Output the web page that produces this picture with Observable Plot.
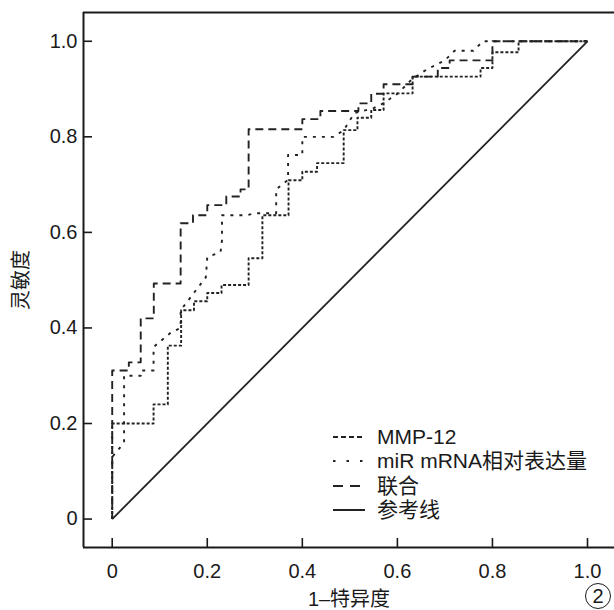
<!DOCTYPE html>
<html><head><meta charset="utf-8">
<script src="https://cdn.jsdelivr.net/npm/d3@7"></script>
<script src="https://cdn.jsdelivr.net/npm/@observablehq/plot@0.6"></script>
<style>
body{margin:0;background:#fff;}
#wrap{position:relative;width:614px;height:610px;overflow:hidden;background:#fff;}
#wrap svg{display:block;}
#legend{position:absolute;left:333px;top:425px;font-family:"Liberation Sans",Arial,"Noto Sans CJK SC",sans-serif;font-size:21px;color:#1a1a1a;}
.row{height:24.3px;line-height:24.3px;display:flex;align-items:center;white-space:nowrap;}
.row svg{width:32px;height:10px;margin-right:12px;flex:none;}
#fig{position:absolute;left:585px;top:583px;width:24px;height:24px;border:1.5px solid #1a1a1a;border-radius:50%;font-family:"Liberation Sans",Arial,sans-serif;font-size:20px;text-align:center;line-height:24px;color:#1a1a1a;}
</style></head>
<body><div id="wrap"></div>
<script>
// ---- data ----
const seriesNames = ["MMP-12", "miR mRNA相对表达量", "联合", "参考线"];
const xTitle = "1–特异度";
const yTitle = "灵敏度";
const figLabel = "2";
const xTicks = [0, 0.2, 0.4, 0.6, 0.8, 1.0];
const xTickLabels = ["0", "0.2", "0.4", "0.6", "0.8", "1.0"];
const yTicks = [0, 0.2, 0.4, 0.6, 0.8, 1.0];
const yTickLabels = ["0", "0.2", "0.4", "0.6", "0.8", "1.0"];

const mmpFpr = [0,0,0.087,0.087,0.117,0.117,0.145,0.145,0.172,0.172,0.2,0.2,0.23,0.23,0.287,0.287,0.316,0.316,0.371,0.371,0.4,0.4,0.431,0.431,0.487,0.487,0.516,0.516,0.545,0.545,0.571,0.571,0.632,0.632,0.775,0.775,0.8,0.8,0.855,0.855,1];
const mmpTpr = [0,0.2,0.2,0.24,0.24,0.363,0.363,0.437,0.437,0.456,0.456,0.473,0.473,0.49,0.49,0.546,0.546,0.636,0.636,0.709,0.709,0.727,0.727,0.745,0.745,0.814,0.814,0.84,0.84,0.856,0.856,0.891,0.891,0.926,0.926,0.944,0.944,0.977,0.977,1,1];

const mirFpr = [0,0,0.025,0.025,0.06,0.06,0.087,0.087,0.123,0.144,0.144,0.197,0.2,0.228,0.231,0.231,0.284,0.3,0.345,0.345,0.37,0.37,0.4,0.4,0.466,0.487,0.51,0.55,0.57,0.6,0.63,0.66,0.7,0.72,0.76,0.78,1];
const mirTpr = [0,0.13,0.16,0.3,0.3,0.311,0.311,0.36,0.39,0.4,0.437,0.506,0.548,0.559,0.584,0.636,0.636,0.64,0.64,0.69,0.71,0.762,0.762,0.8,0.8,0.814,0.85,0.86,0.87,0.89,0.92,0.94,0.96,0.98,0.98,1,1];

const comboFpr = [0,0,0.035,0.035,0.06,0.06,0.0875,0.0875,0.144,0.144,0.17,0.17,0.2,0.2,0.24,0.24,0.27,0.27,0.287,0.287,0.4,0.4,0.438,0.438,0.518,0.518,0.545,0.545,0.571,0.571,0.632,0.632,0.685,0.685,0.71,0.71,0.8,0.8,1];
const comboTpr = [0,0.311,0.311,0.328,0.328,0.42,0.42,0.493,0.493,0.619,0.619,0.636,0.636,0.657,0.657,0.675,0.675,0.69,0.69,0.816,0.816,0.837,0.837,0.854,0.854,0.87,0.87,0.89,0.89,0.91,0.91,0.926,0.926,0.944,0.944,0.96,0.96,1,1];

const refFpr = [0, 1];
const refTpr = [0, 1];

// ---- styles ----
const ink = "#222";
const curveDash = ["3,2", "3,6", "8,5", null];
const legendDash = ["5,3", "2.5,11", "10,7", null];
const xDomain = [-0.0604, 1.0568];
const yDomain = [-0.0595, 1.0602];

const toRows = (xs, ys) => xs.map((x, i) => ({fpr: x, tpr: ys[i]}));
const curves = [toRows(mmpFpr, mmpTpr), toRows(mirFpr, mirTpr), toRows(comboFpr, comboTpr), toRows(refFpr, refTpr)];

const font = '"Liberation Sans", Arial, "Noto Sans CJK SC", sans-serif';

const chart = Plot.plot({
  width: 614, height: 610,
  marginLeft: 83, marginRight: 0, marginTop: 12, marginBottom: 63,
  style: {fontFamily: font, fontSize: "20px", color: "#1a1a1a", background: "white"},
  x: {domain: xDomain},
  y: {domain: yDomain},
  marks: [
    ...curves.map((rows, k) => Plot.line(rows, {
      x: "fpr", y: "tpr", stroke: ink,
      strokeWidth: k === 3 ? 1.8 : 1.9,
      strokeDasharray: curveDash[k],
      strokeLinecap: "butt"
    })),
    Plot.ruleX([xDomain[0]], {stroke: "#1a1a1a", strokeWidth: 2}),
    Plot.ruleY([yDomain[0], yDomain[1]], {stroke: "#1a1a1a", strokeWidth: 2}),
    Plot.axisX(xTicks, {
      tickFormat: d => xTickLabels[xTicks.indexOf(d)],
      tickSize: 9, insetBottom: 9, tickPadding: 16, strokeWidth: 1.6,
      label: xTitle, labelAnchor: "center", labelOffset: 58, labelArrow: false
    }),
    Plot.axisY(yTicks, {
      tickFormat: d => yTickLabels[yTicks.indexOf(d)],
      tickSize: 9, insetLeft: 9, tickPadding: 6, strokeWidth: 1.6,
      label: yTitle, labelAnchor: "center", labelOffset: 70, labelArrow: false
    })
  ]
});

const wrap = document.getElementById("wrap");
wrap.appendChild(chart);

// legend (HTML overlay)
const legend = document.createElement("div");
legend.id = "legend";
seriesNames.forEach((name, k) => {
  const row = document.createElement("div");
  row.className = "row";
  const dash = legendDash[k] ? `stroke-dasharray="${legendDash[k]}"` : "";
  row.innerHTML = `<svg viewBox="0 0 32 10"><line x1="0" y1="5" x2="32" y2="5" stroke="${ink}" stroke-width="2" ${dash}/></svg><span></span>`;
  row.querySelector("span").textContent = name;
  legend.appendChild(row);
});
wrap.appendChild(legend);

const fig = document.createElement("div");
fig.id = "fig";
fig.textContent = figLabel;
wrap.appendChild(fig);
</script>
</body></html>
